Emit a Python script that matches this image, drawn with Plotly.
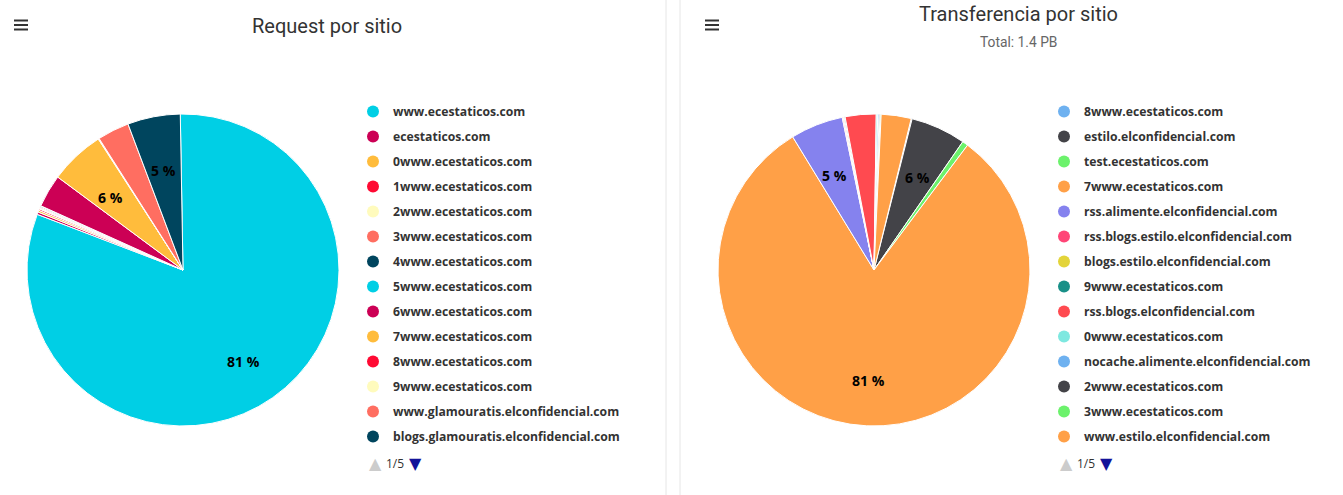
import math
import plotly.graph_objects as go

W, H = 1343, 495

# ---------------- data ----------------
req_sites = [
    "www.ecestaticos.com", "ecestaticos.com", "0www.ecestaticos.com",
    "1www.ecestaticos.com", "2www.ecestaticos.com", "3www.ecestaticos.com",
    "4www.ecestaticos.com", "5www.ecestaticos.com", "6www.ecestaticos.com",
    "7www.ecestaticos.com", "8www.ecestaticos.com", "9www.ecestaticos.com",
    "www.glamouratis.elconfidencial.com", "blogs.glamouratis.elconfidencial.com",
]
req_values = [81.0, 0.25, 0.2, 0.15, 0.1, 0.1, 0.1, 0.05, 3.4, 5.7, 0.05, 0.05, 3.3, 5.45]

tr_sites = [
    "8www.ecestaticos.com", "estilo.elconfidencial.com", "test.ecestaticos.com",
    "7www.ecestaticos.com", "rss.alimente.elconfidencial.com",
    "rss.blogs.estilo.elconfidencial.com", "blogs.estilo.elconfidencial.com",
    "9www.ecestaticos.com", "rss.blogs.elconfidencial.com", "0www.ecestaticos.com",
    "nocache.alimente.elconfidencial.com", "2www.ecestaticos.com",
    "3www.ecestaticos.com", "www.estilo.elconfidencial.com",
]
tr_values = [0.1, 5.7, 0.6, 81.0, 5.45, 0.1, 0.1, 0.1, 3.2, 0.15, 0.15, 0.1, 0.1, 3.1]

req_title = "Request por sitio"
tr_title = "Transferencia por sitio"
tr_subtitle = "Total: 1.4 PB"
pager_text = "1/5"

# ---------------- styles ----------------
req_palette = ["#00cfe5", "#cc0055", "#ffbc3c", "#ff0a33", "#fffbbd", "#ff6e61", "#00455e"]
tr_palette = ["#6eb1f0", "#434348", "#6cf26c", "#ffa047", "#8582ee",
              "#ff4577", "#e3d43a", "#199088", "#ff4a50", "#7ee8e0"]

req_colors = [req_palette[i % len(req_palette)] for i in range(len(req_sites))]
tr_colors = [tr_palette[i % len(tr_palette)] for i in range(len(tr_sites))]

LEG_FONT = dict(family="Open Sans", size=12.2, color="#333333", weight="bold")
LABEL_FONT = dict(family="Open Sans", size=14, color="#000000", weight="bold")

R = 156
CY = 270
LABEL_DIST = 50   # label sits this far inside the rim
LABEL_DROP = 4.5  # baseline offset of the labels


def dom(cx):
    return dict(x=[(cx - R) / W, (cx + R) / W], y=[(H - CY - R) / H, (H - CY + R) / H])


ann = []


def txt(x, y, s, size, color, family="Roboto", weight="normal"):
    ann.append(dict(x=x / W, y=1 - y / H, xref="paper", yref="paper", text=s, showarrow=False,
                    xanchor="center", yanchor="middle",
                    font=dict(family=family, size=size, color=color, weight=weight)))


def pct_annotations(vals, cx, rotation):
    tot = sum(vals)
    cum = 0.0
    for v in vals:
        p = v / tot
        mid = math.radians(rotation + (cum + p / 2) * 360)
        cum += p
        if p * 100 >= 4.5:
            r = R - LABEL_DIST
            x = cx + r * math.sin(mid)
            y = CY - r * math.cos(mid) + LABEL_DROP
            txt(x, y, f"{round(p * 100)} %", LABEL_FONT["size"], LABEL_FONT["color"],
                family=LABEL_FONT["family"], weight="bold")


fig = go.Figure()

ROT1, ROT2 = -1, 13.8
fig.add_trace(go.Pie(
    labels=req_sites, values=req_values, sort=False, direction="clockwise",
    rotation=ROT1, domain=dom(183), marker=dict(colors=req_colors, line=dict(color="white", width=1)),
    textinfo="none", showlegend=False, hoverinfo="label+percent",
))
pct_annotations(req_values, 183, ROT1)

fig.add_trace(go.Pie(
    labels=tr_sites, values=tr_values, sort=False, direction="clockwise",
    rotation=ROT2, domain=dom(874), marker=dict(colors=tr_colors, line=dict(color="white", width=1)),
    textinfo="none", showlegend=False, hoverinfo="label+percent",
))
pct_annotations(tr_values, 874, ROT2)

# legend entries (circle markers like the original)
for i, (s, c) in enumerate(zip(req_sites, req_colors)):
    fig.add_trace(go.Scatter(x=[None], y=[None], mode="markers", name=s,
                             marker=dict(color=c, size=12, symbol="circle"),
                             legend="legend", legendgroup=f"a{i}", showlegend=True))
for i, (s, c) in enumerate(zip(tr_sites, tr_colors)):
    fig.add_trace(go.Scatter(x=[None], y=[None], mode="markers", name=s,
                             marker=dict(color=c, size=12, symbol="circle"),
                             legend="legend2", legendgroup=f"b{i}", showlegend=True))

leg_common = dict(font=LEG_FONT, bgcolor="rgba(0,0,0,0)", tracegroupgap=6,
                  xanchor="left", yanchor="top", itemsizing="trace", itemclick=False,
                  itemdoubleclick=False)

shapes = []
# card separators
for x in (666, 680):
    shapes.append(dict(type="line", xref="paper", yref="paper", x0=x / W, x1=x / W, y0=0, y1=1,
                       line=dict(color="#e6e6e6", width=1)))
# hamburger icons
for x0 in (14, 705):
    for yy in (20.5, 25, 29.5):
        shapes.append(dict(type="line", xref="paper", yref="paper", x0=x0 / W, x1=(x0 + 14) / W,
                           y0=1 - yy / H, y1=1 - yy / H, line=dict(color="#333333", width=2)))

txt(327, 26, req_title, 20, "#333333")
txt(1018, 14, tr_title, 20, "#333333")
txt(1018, 42, tr_subtitle, 13.8, "#666666")
for xa in (375, 1066):
    txt(xa, 463, "▲", 16, "#cccccc", family="DejaVu Sans")
    txt(xa + 20, 463, pager_text, 12, "#333333", family="Open Sans")
    txt(xa + 40, 463, "▼", 16, "#13139a", family="DejaVu Sans")

fig.update_layout(
    width=W, height=H, margin=dict(l=0, r=0, t=0, b=0),
    paper_bgcolor="white", plot_bgcolor="white",
    xaxis=dict(visible=False), yaxis=dict(visible=False),
    legend=dict(x=353 / W, y=1 - 97 / H, **leg_common),
    legend2=dict(x=1044 / W, y=1 - 97 / H, **leg_common),
    shapes=shapes, annotations=ann,
)

fig.write_html("out.html")
